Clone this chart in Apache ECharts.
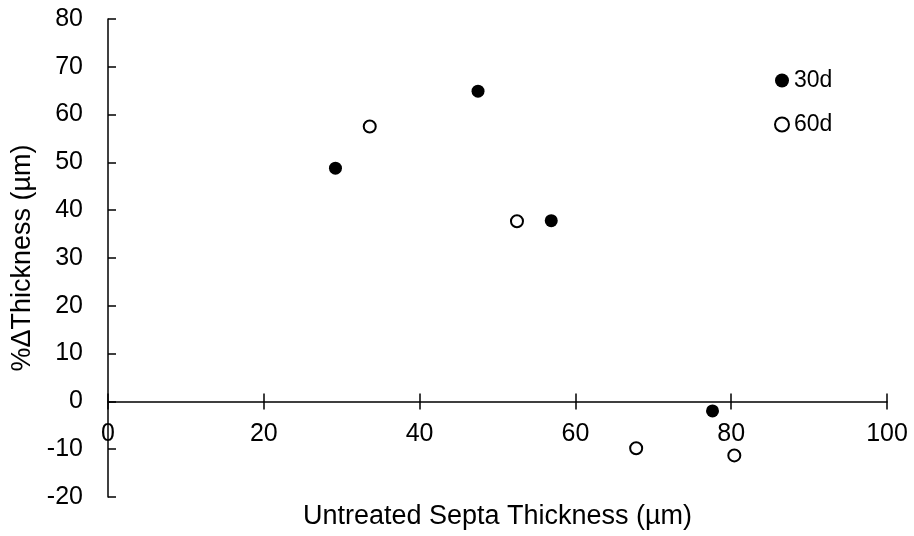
<!DOCTYPE html>
<html>
<head>
<meta charset="utf-8">
<script src="https://cdn.jsdelivr.net/npm/echarts@6/dist/echarts.min.js"></script>
<style>
  html, body { margin: 0; padding: 0; background: #fff; }
  #main { width: 914px; height: 536px; }
</style>
</head>
<body>
<div id="main"></div>
<script>
var seriesNames = ['30d', '60d'];
// untreated septa thickness (um), % change in thickness
var x30 = [29.2, 47.5, 56.9, 77.6];
var y30 = [48.8, 64.9, 37.8, -2.0];
var x60 = [33.6, 52.5, 67.8, 80.4];
var y60 = [57.5, 37.7, -9.8, -11.3];

var xTicks = [0, 20, 40, 60, 80, 100];
var yTicks = [-20, -10, 0, 10, 20, 30, 40, 50, 60, 70, 80];

function pairs(xs, ys) {
  var out = [];
  for (var i = 0; i < xs.length; i++) out.push([xs[i], ys[i]]);
  return out;
}

var font = 'Liberation Sans';
var ink = '#000';

var chart = echarts.init(document.getElementById('main'), null, { renderer: 'canvas' });

var option = {
  backgroundColor: '#ffffff',
  animation: false,
  textStyle: { fontFamily: font, color: ink },
  grid: { left: 108, right: 27, top: 19, bottom: 39, containLabel: false, outerBoundsMode: 'none' },
  legend: {
    orient: 'vertical',
    left: 769,
    top: 64,
    itemWidth: 14,
    itemHeight: 14,
    itemGap: 21,
    textStyle: { fontFamily: font, fontSize: 23, color: ink },
    data: [
      { name: seriesNames[0], icon: 'circle' },
      { name: seriesNames[1], icon: 'circle' }
    ]
  },
  xAxis: [{
    type: 'value',
    min: xTicks[0],
    max: xTicks[xTicks.length - 1],
    interval: 20,
    name: 'Untreated Septa Thickness (µm)',
    nameLocation: 'middle',
    nameGap: 6,
    nameTextStyle: { fontFamily: font, fontSize: 27, color: ink },
    axisLine: { onZero: true, onZeroAxisIndex: 0, lineStyle: { color: ink, width: 1.5 } },
    axisTick: { show: true, inside: false, length: 8, lineStyle: { color: ink, width: 1.5 } },
    // labels are laid out from the grid bottom, pull them up under the zero line
    axisLabel: { margin: -75, fontSize: 25, color: ink, fontFamily: font },
    splitLine: { show: false }
  }, {
    // second copy only to draw the upper half of the crossing ticks
    type: 'value',
    position: 'bottom',
    min: xTicks[0],
    max: xTicks[xTicks.length - 1],
    interval: 20,
    axisLine: { show: false, onZero: true, onZeroAxisIndex: 0 },
    axisTick: { show: true, inside: true, length: 8, lineStyle: { color: ink, width: 1.5 } },
    axisLabel: { show: false },
    splitLine: { show: false }
  }],
  yAxis: {
    type: 'value',
    min: yTicks[0],
    max: yTicks[yTicks.length - 1],
    interval: 10,
    name: '%ΔThickness (µm)',
    nameLocation: 'middle',
    nameGap: 68,
    nameTextStyle: { fontFamily: font, fontSize: 27, color: ink },
    axisLine: { show: true, onZero: false, lineStyle: { color: ink, width: 1.5 } },
    axisTick: { show: true, inside: true, length: 8, lineStyle: { color: ink, width: 1.5 } },
    axisLabel: { margin: 25, fontSize: 25, color: ink, fontFamily: font },
    splitLine: { show: false }
  },
  series: [{
    name: seriesNames[0],
    type: 'scatter',
    symbol: 'circle',
    symbolSize: 13,
    itemStyle: { color: '#000', borderColor: '#000', borderWidth: 0, opacity: 1 },
    data: pairs(x30, y30)
  }, {
    name: seriesNames[1],
    type: 'scatter',
    symbol: 'circle',
    symbolSize: 12,
    itemStyle: { color: '#fff', borderColor: '#000', borderWidth: 2, opacity: 1 },
    data: pairs(x60, y60)
  }]
};

chart.setOption(option);
</script>
</body>
</html>
